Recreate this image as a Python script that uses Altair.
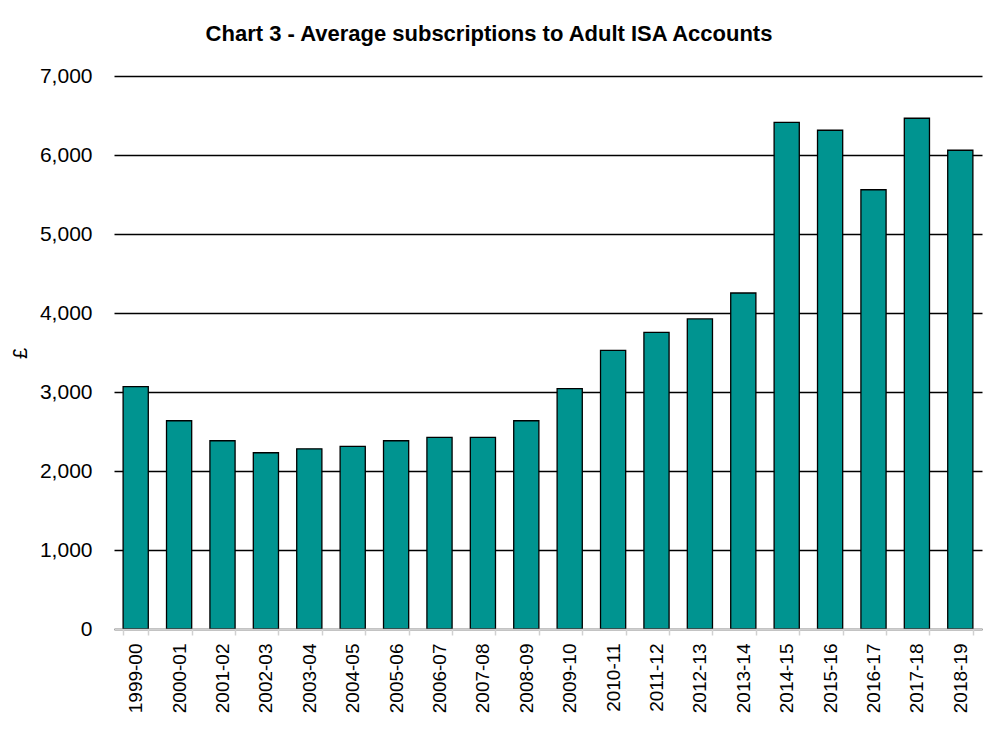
import altair as alt
import pandas as pd

years = ["1999-00", "2000-01", "2001-02", "2002-03", "2003-04", "2004-05", "2005-06",
         "2006-07", "2007-08", "2008-09", "2009-10", "2010-11", "2011-12", "2012-13",
         "2013-14", "2014-15", "2015-16", "2016-17", "2017-18", "2018-19"]
avg_subs = [3067, 2636, 2383, 2231, 2281, 2312, 2383, 2426, 2426, 2636,
            3042, 3527, 3755, 3925, 4253, 6414, 6313, 5560, 6465, 6060]
y_ticks = [0, 1000, 2000, 3000, 4000, 5000, 6000, 7000]

df = pd.DataFrame({"year": years, "value": avg_subs})

FONT = "Liberation Sans"

chart = alt.Chart(df).mark_bar(
    color="#009490", stroke="black", strokeWidth=1.3
).encode(
    x=alt.X("year:N", sort=years, title=None,
            scale=alt.Scale(paddingInner=0.42, paddingOuter=0.21),
            axis=alt.Axis(labelAngle=-90, labelFont=FONT, labelFontSize=19,
                          labelColor="black", labelPadding=8, tickBand="extent",
                          tickSize=6, tickColor="#d0d0d0", domainColor="#d0d0d0",
                          domainWidth=1.5, tickWidth=1.5, zindex=1, grid=False)),
    y=alt.Y("value:Q", title="£",
            scale=alt.Scale(domain=[0, 7000], nice=False),
            axis=alt.Axis(values=y_ticks, format=",.0f", labelFont=FONT, labelFontSize=21,
                          labelColor="black", labelPadding=22, ticks=False, domain=False,
                          gridColor="black", gridWidth=1.3,
                          titleFont=FONT, titleFontSize=20, titleFontWeight="normal",
                          titleColor="black", titleAngle=-90, titleX=-94, titleY=277,
                          titleAlign="center", titleBaseline="middle")),
).properties(
    width=868, height=553,
    title=alt.TitleParams("Chart 3 - Average subscriptions to Adult ISA Accounts",
                          font=FONT, fontSize=22, fontWeight="bold", color="black",
                          anchor="middle", dx=-59, offset=19),
    autosize=alt.AutoSizeParams(type="none"),
    padding={"left": 106, "top": 68, "right": 7, "bottom": 100},
).configure_view(stroke=None)

chart.save("out.html", embed_options={"renderer": "svg", "actions": False})
